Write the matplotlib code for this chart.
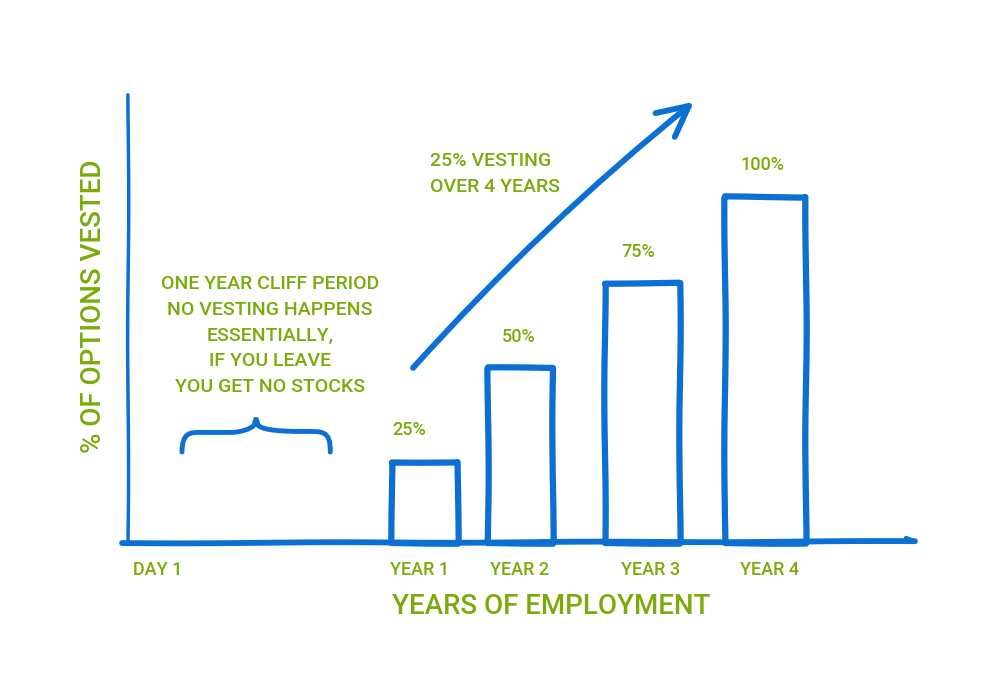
import numpy as np
import matplotlib
matplotlib.use("Agg")
import matplotlib.pyplot as plt
from matplotlib.path import Path
from matplotlib.patches import PathPatch

BLUE = "#0b6fd4"
GREEN = "#7bab0b"

# data (x in drawing units from the origin, y in % vested)
tick_labels = ["DAY 1", "YEAR 1", "YEAR 2", "YEAR 3", "YEAR 4"]
tick_pos = [5, 292, 392, 523, 642]
bar_pos = [297, 392, 514, 637]
bar_width = [66, 65, 75, 81]
vested = [23.5, 50.5, 75, 100]
value_labels = ["25%", "50%", "75%", "100%"]
value_label_x = [281, 391, 510, 634]

SKETCH = dict(scale=0.7, length=260, randomness=2)
FONT = ["Roboto", "DejaVu Sans"]


def brace(ax, x0, x1, y_low, y_mid, y_peak, **kw):
    xc = (x0 + x1) / 2
    verts = [
        (x0, y_low), (x0, y_mid), (x0 + 8, y_mid), (x0 + 20, y_mid),
        (xc - 25, y_mid), (xc - 15, y_mid), (xc - 5, y_mid + 1),
        (xc - 2, y_mid + 2), (xc, y_peak), (xc, y_peak),
        (xc + 2, y_mid + 2), (xc + 5, y_mid + 1), (xc + 15, y_mid),
        (x1 - 25, y_mid), (x1 - 8, y_mid), (x1, y_mid + 0.5), (x1, y_low),
    ]
    codes = [Path.MOVETO, Path.CURVE4, Path.CURVE4, Path.CURVE4,
             Path.LINETO, Path.CURVE4, Path.CURVE4, Path.CURVE4,
             Path.CURVE4, Path.CURVE4, Path.CURVE4, Path.CURVE4,
             Path.CURVE4, Path.LINETO, Path.CURVE4, Path.CURVE4, Path.CURVE4]
    p = PathPatch(Path(verts, codes), fill=False, **kw)
    p.set_sketch_params(scale=0.5, length=200, randomness=2)
    ax.add_patch(p)


fig = plt.figure(figsize=(10, 6.76), dpi=100)
ax = fig.add_axes([0, 0, 1, 1])
ax.set_xlim(-128, 872)
ax.set_ylim(-38.4, 156.9)
ax.axis("off")

bars = ax.bar(bar_pos, vested, width=bar_width, facecolor="white",
              edgecolor=BLUE, linewidth=4.5, joinstyle="round", zorder=2)
for b in bars:
    b.set_sketch_params(**SKETCH)

# axes drawn by hand
yax, = ax.plot([0, 0.3], [0, 129.5], color=BLUE, lw=2.5, solid_capstyle="round", zorder=3)
yax.set_sketch_params(scale=0.5, length=300, randomness=2)
xax, = ax.plot([-6, 787], [0, 0.5], color=BLUE, lw=4.2, solid_capstyle="round", zorder=3)
xax.set_sketch_params(scale=0.4, length=300, randomness=2)
ax.plot([778, 787], [1.5, 0.5], color=BLUE, lw=3, solid_capstyle="round", zorder=3)

for x, v, lab in zip(value_label_x, vested, value_labels):
    ax.text(x, v + 6.5, lab, ha="center", va="bottom", color=GREEN,
            fontsize=13, fontweight="medium", family=FONT)

for i, (x, lab) in enumerate(zip(tick_pos, tick_labels)):
    ax.text(x, -7.8, lab, ha="left" if i == 0 else "center", va="center",
            color=GREEN, fontsize=13, fontweight="medium", family=FONT)

ax.text(264, -18.2, "YEARS OF EMPLOYMENT", ha="left", va="center",
        color=GREEN, fontsize=20, fontweight="medium", family=FONT)
ax.text(-34, 68.5, "% OF OPTIONS VESTED", ha="center", va="center",
        rotation=90, color=GREEN, fontsize=20, fontweight="medium", family=FONT)

ax.text(142, 60, "ONE YEAR CLIFF PERIOD\nNO VESTING HAPPENS\nESSENTIALLY,\nIF YOU LEAVE\nYOU GET NO STOCKS",
        ha="center", va="center", color=GREEN, fontsize=14, linespacing=1.55,
        fontweight="medium", family=FONT)
brace(ax, 54, 202, 26.3, 32.1, 36.3, color=BLUE, lw=3.5, capstyle="round")

ax.text(302, 106.6, "25% VESTING\nOVER 4 YEARS", ha="left", va="center",
        color=GREEN, fontsize=14, linespacing=1.55, fontweight="medium", family=FONT)
ax.annotate("", xy=(566, 127.5), xytext=(285, 50.6),
            arrowprops=dict(arrowstyle="->,head_length=2.2,head_width=1.1",
                            lw=4.2, color=BLUE, shrinkA=0, shrinkB=0,
                            connectionstyle="arc3,rad=-0.04"))

fig.savefig("out.png", dpi=100, facecolor="white")
